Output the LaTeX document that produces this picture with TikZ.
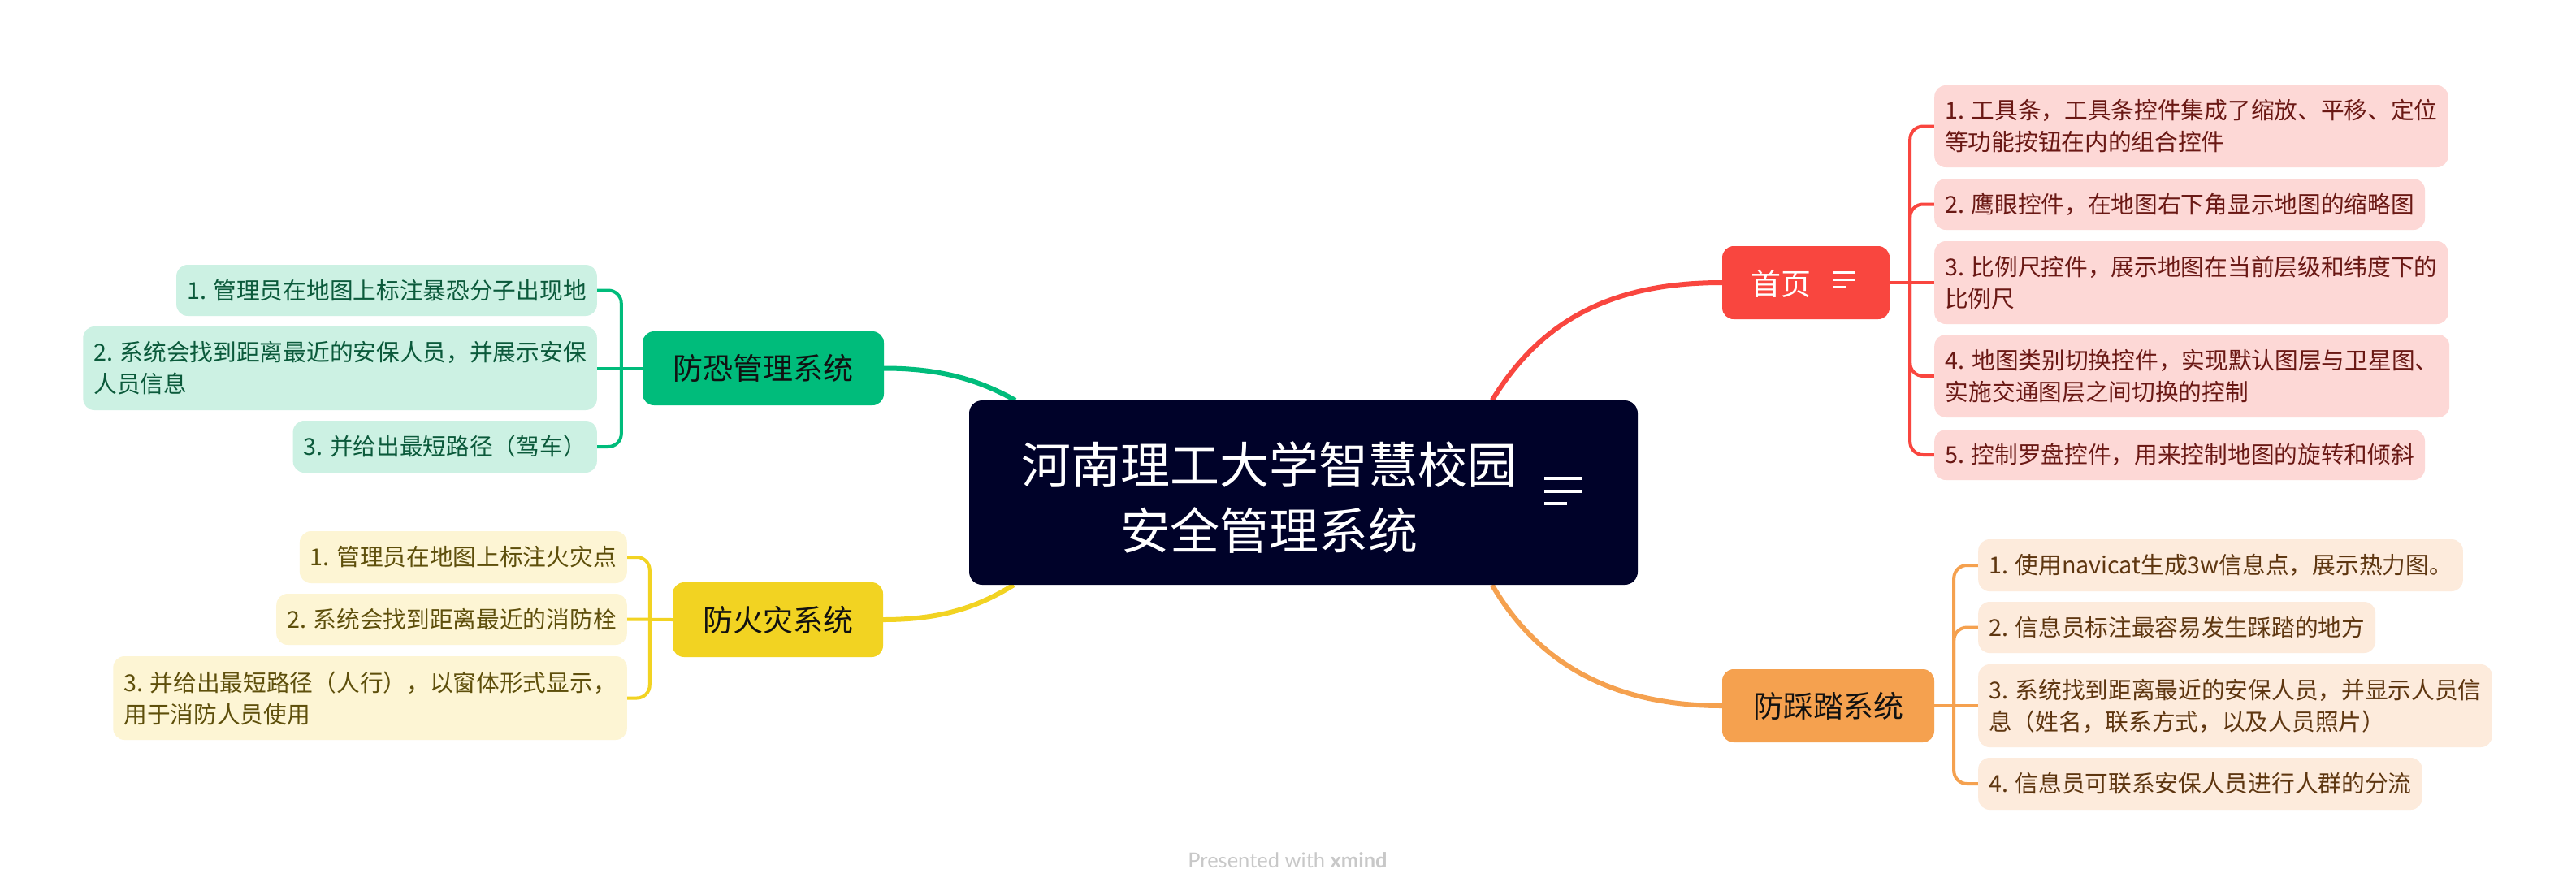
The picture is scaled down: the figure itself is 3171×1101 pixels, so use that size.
\documentclass[tikz,border=0pt]{standalone}
\usepackage{fontspec}
\setmainfont{Noto Sans CJK SC}
\newfontfamily\wmfont{Lato}
\definecolor{navy}{HTML}{000229}
\definecolor{redm}{HTML}{F9463F}
\definecolor{redlt}{HTML}{FDD8D6}
\definecolor{redtx}{HTML}{6A1814}
\definecolor{greenm}{HTML}{00BC7B}
\definecolor{greenlt}{HTML}{CCF1E3}
\definecolor{greentx}{HTML}{0B5A3B}
\definecolor{yellowm}{HTML}{F2D322}
\definecolor{yellowlt}{HTML}{FDF5D4}
\definecolor{yellowtx}{HTML}{5E4F0B}
\definecolor{orangem}{HTML}{F5A14F}
\definecolor{orangelt}{HTML}{FDEBDC}
\definecolor{orangetx}{HTML}{5E3610}
\definecolor{wmgray}{HTML}{C8C8C8}
\definecolor{maintx}{HTML}{111111}
\pgfdeclarelayer{bg}
\pgfsetlayers{bg,main}
\begin{document}
\begin{tikzpicture}[x=1pt,y=-1pt,
  box/.style={rounded corners=14pt, inner xsep=13pt, inner ysep=0pt, align=left,
    font=\fontsize{28.7pt}{39pt}\selectfont},
  rbox/.style={box, fill=redlt, text=redtx, anchor=west},
  gbox/.style={box, fill=greenlt, text=greentx, anchor=east},
  ybox/.style={box, fill=yellowlt, text=yellowtx, anchor=east},
  obox/.style={box, fill=orangelt, text=orangetx, anchor=west},
  topic/.style={rounded corners=14pt, inner sep=0pt, text=maintx,
    font=\fontsize{37pt}{44pt}\selectfont},
  mline/.style={line width=6pt},
  bline/.style={line width=4pt, rounded corners=16pt},
]
\useasboundingbox (0,0) rectangle (3171,1101);

% central topic
\node[fill=navy, rounded corners=16pt, minimum width=823pt, minimum height=227pt, inner sep=0pt] (root) at (1604.5,606.5) {};
\node[text=white, align=center, inner sep=0pt, font=\fontsize{61pt}{81pt}\selectfont] (roottxt) at (1562,612.5) {河南理工大学智慧校园\\安全管理系统};
\draw[white, line width=4pt] (1901,589) -- (1948,589) (1901,605) -- (1948,605) (1901,620) -- (1929,620);

% main topics
\node[topic, fill=redm, minimum width=206pt, minimum height=90pt] (home) at (2223,348) {};
\node[text=white, inner sep=0pt, font=\fontsize{37pt}{44pt}\selectfont] (hometxt) at (2192,349) {首页};
\draw[white, line width=3pt] (2256,335) -- (2284,335) (2256,344) -- (2284,344) (2256,353) -- (2273,353);
\node[topic, fill=greenm, minimum width=297pt, minimum height=91pt] (fk) at (939.5,453.5) {防恐管理系统};
\node[topic, fill=yellowm, minimum width=259pt, minimum height=92pt] (fh) at (957.5,763) {防火灾系统};
\node[topic, fill=orangem, minimum width=261pt, minimum height=90pt] (fct) at (2250.5,869) {防踩踏系统};

% home children
\node[rbox, minimum width=627pt, minimum height=101pt] (h1) at (2381,155.5) {1. 工具条，工具条控件集成了缩放、平移、定位\\等功能按钮在内的组合控件};
\node[rbox, minimum width=602pt, minimum height=63pt] (h2) at (2381,251.5) {2. 鹰眼控件，在地图右下角显示地图的缩略图};
\node[rbox, minimum width=632pt, minimum height=102pt] (h3) at (2381,348) {3. 比例尺控件，展示地图在当前层级和纬度下的\\比例尺};
\node[rbox, minimum width=634pt, minimum height=102pt] (h4) at (2381,463) {4. 地图类别切换控件，实现默认图层与卫星图、\\实施交通图层之间切换的控制};
\node[rbox, minimum width=603pt, minimum height=62pt] (h5) at (2381,560) {5. 控制罗盘控件，用来控制地图的旋转和倾斜};

% anti-terror children
\node[gbox, minimum width=511pt, minimum height=63pt] (a1) at (735,357.5) {1. 管理员在地图上标注暴恐分子出现地};
\node[gbox, minimum width=632pt, minimum height=103pt] (a2) at (735,453.5) {2. 系统会找到距离最近的安保人员，并展示安保\\人员信息};
\node[gbox, minimum width=370pt, minimum height=64pt] (a3) at (735,550) {3. 并给出最短路径（驾车）};

% fire children
\node[ybox, minimum width=395pt, minimum height=64pt] (f1) at (772,686) {1. 管理员在地图上标注火灾点};
\node[ybox, minimum width=427pt, minimum height=63pt] (f2) at (772,762.5) {2. 系统会找到距离最近的消防栓};
\node[ybox, minimum width=630pt, minimum height=103pt] (f3) at (772,859.5) {3. 并给出最短路径（人行），以窗体形式显示，\\用于消防人员使用};

% stampede children
\node[obox, minimum width=583pt, minimum height=64pt] (s1) at (2435,696) {1. 使用navicat生成3w信息点，展示热力图。};
\node[obox, minimum width=486pt, minimum height=63pt] (s2) at (2435,772.5) {2. 信息员标注最容易发生踩踏的地方};
\node[obox, minimum width=631pt, minimum height=102pt] (s3) at (2435,869) {3. 系统找到距离最近的安保人员，并显示人员信\\息（姓名，联系方式，以及人员照片）};
\node[obox, minimum width=546pt, minimum height=64pt] (s4) at (2435,965) {4. 信息员可联系安保人员进行人群的分流};

% watermark
\node[text=wmgray, inner sep=0pt, font=\wmfont\fontsize{25.5pt}{30pt}\selectfont] (wm) at (1585,1059) {Presented with \textbf{xmind}};

\begin{pgfonlayer}{bg}
\fill[white] (0,0) rectangle (3171,1101);
% main curves
\draw[mline, redm] ([xshift=644pt]root.north west) .. controls +(63,-103) and +(-130,0) .. (home.west);
\draw[mline, orangem] ([xshift=644pt]root.south west) .. controls +(58,100) and +(-130,0) .. (fct.west);
\draw[mline, greenm] ([xshift=57pt]root.north west) .. controls +(-45,-25) and +(70,0) .. (fk.east);
\draw[mline, yellowm] ([xshift=55pt]root.south west) .. controls +(-45,28) and +(70,0) .. (fh.east);
% home branches
\draw[bline, redm] (home.east) -- (h3.west);
\draw[bline, redm] ([xshift=25pt]home.east) |- (h1.west);
\draw[bline, redm] ([xshift=25pt]home.east) |- (h2.west);
\draw[bline, redm] ([xshift=25pt]home.east) |- (h4.west);
\draw[bline, redm] ([xshift=25pt]home.east) |- (h5.west);
% anti-terror branches
\draw[bline, greenm] (fk.west) -- (a2.east);
\draw[bline, greenm] ([xshift=-26pt]fk.west) |- (a1.east);
\draw[bline, greenm] ([xshift=-26pt]fk.west) |- (a3.east);
% fire branches
\draw[bline, yellowm] (fh.west) -- (f2.east);
\draw[bline, yellowm] ([xshift=-28pt]fh.west) |- (f1.east);
\draw[bline, yellowm] ([xshift=-28pt]fh.west) |- (f3.east);
% stampede branches
\draw[bline, orangem] (fct.east) -- (s3.west);
\draw[bline, orangem] ([xshift=24pt]fct.east) |- (s1.west);
\draw[bline, orangem] ([xshift=24pt]fct.east) |- (s2.west);
\draw[bline, orangem] ([xshift=24pt]fct.east) |- (s4.west);
\end{pgfonlayer}
\end{tikzpicture}
\end{document}
